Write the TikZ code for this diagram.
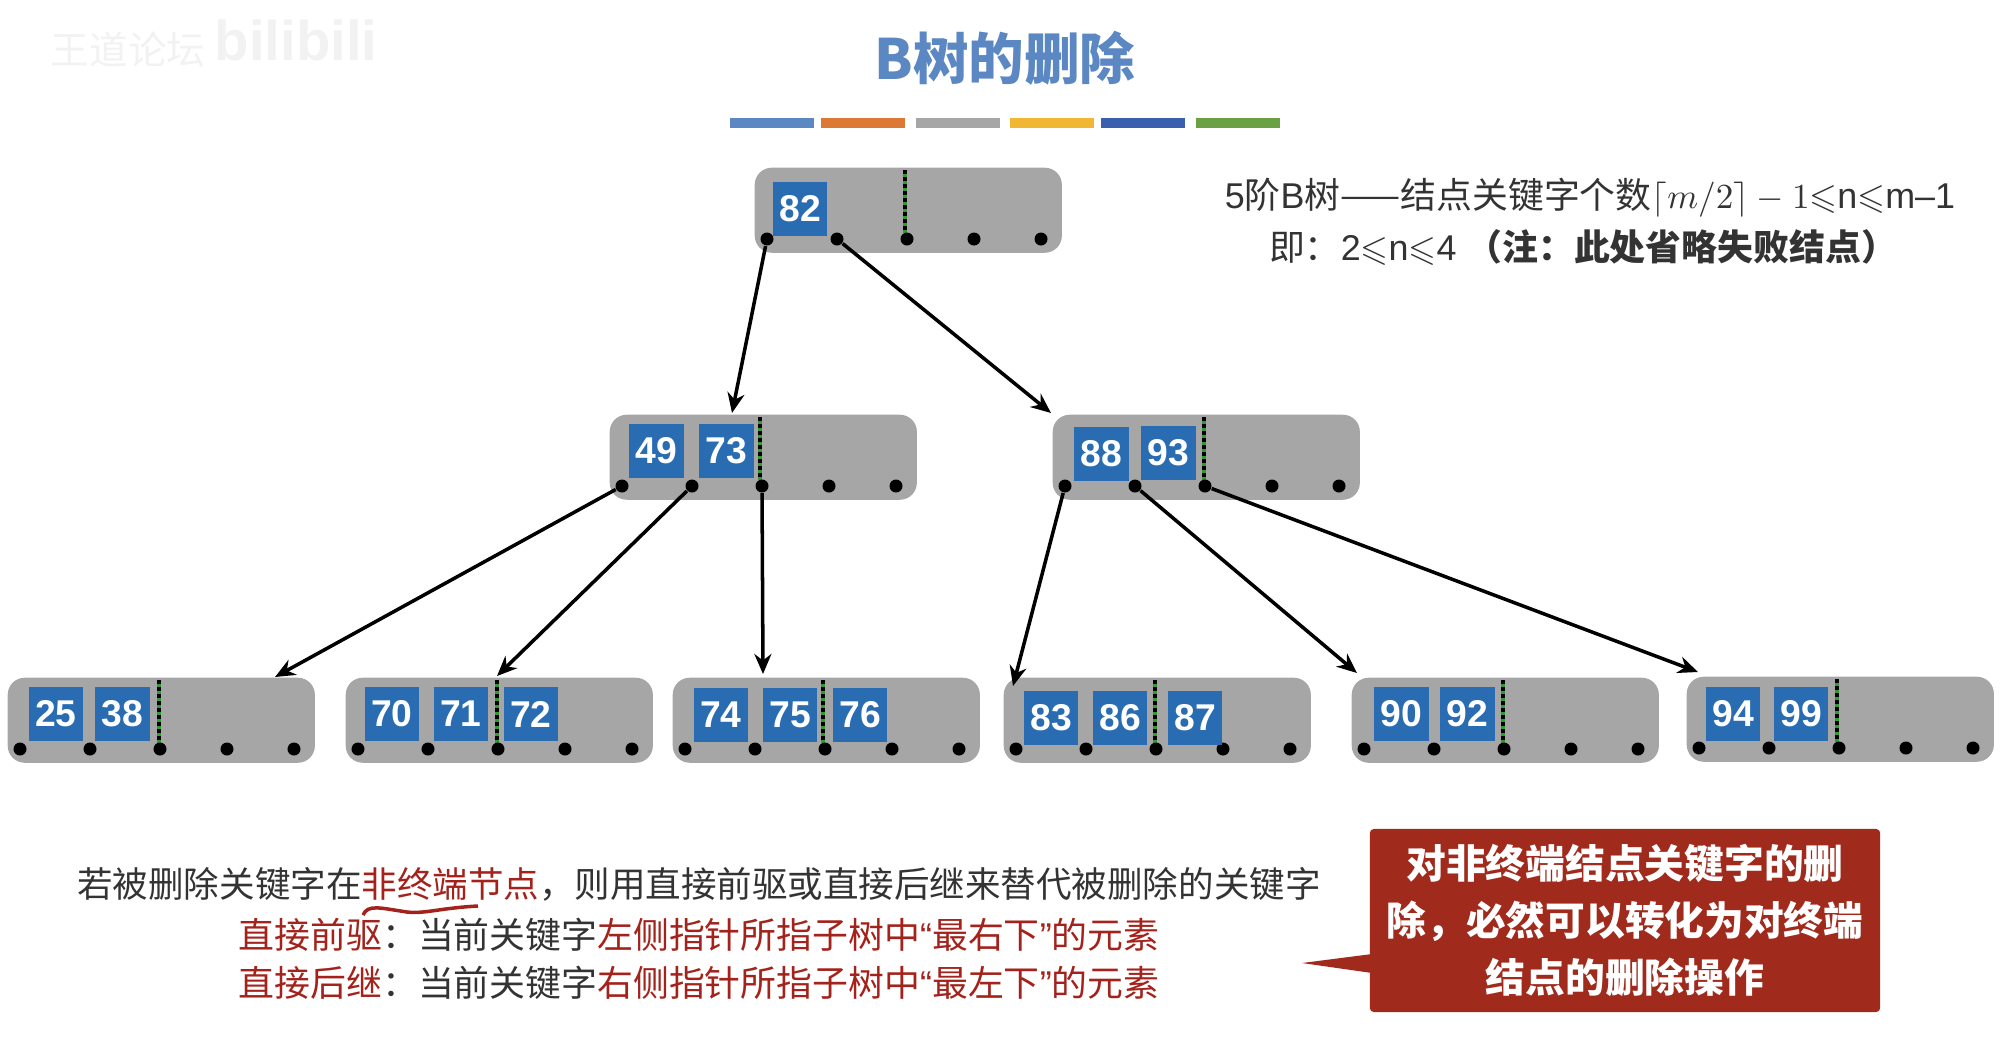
\documentclass[tikz,border=0pt]{standalone}
\usepackage{xcolor}
\usepackage{amssymb}
\usepackage{fontspec}
\setmainfont{Liberation Sans}
\newfontfamily\cjk{Noto Sans CJK SC}
\usetikzlibrary{arrows.meta}
\definecolor{titleblue}{HTML}{5B87C2}
\definecolor{keyblue}{HTML}{2A6CB2}
\definecolor{boxgray}{HTML}{A6A6A6}
\definecolor{textred}{HTML}{A3231C}
\definecolor{notered}{HTML}{A02A1C}
\definecolor{barorange}{HTML}{DC7A35}
\definecolor{baryellow}{HTML}{F2B635}
\definecolor{barblue}{HTML}{3A5FAF}
\definecolor{bargreen}{HTML}{6BA044}
\tikzset{
  btbox/.style={fill=boxgray,rounded corners=0.17cm,minimum width=3.07cm,minimum height=0.85cm,inner sep=0pt,anchor=north west},
  keybox/.style={fill=keyblue,text=white,minimum width=0.54cm,minimum height=0.54cm,inner sep=0pt,font=\fontsize{10.6pt}{12pt}\selectfont\bfseries},
  ptr/.style={circle,fill=black,minimum size=0.13cm,inner sep=0pt},
  link/.style={line width=1pt,-{Stealth[length=0.2cm,width=0.17cm]}},
  bar/.style={minimum width=0.83cm,minimum height=0.1cm,inner sep=0pt},
  txt/.style={inner sep=0pt,text=black!80,font=\fontsize{10.1pt}{12pt}\selectfont},
  rulefont/.style={font=\fontsize{10.2pt}{12pt}\selectfont},
}
% box with its five pointer dots and the dotted limit
\newcommand{\btnode}[4]{
  \node[btbox] (#1) at (#2,#3) {};
  \draw[green!50!black!80!white,line width=1pt] (#2+#4,#3+3)--(#2+#4,#3+66);
  \draw[black,line width=1pt,densely dotted] (#2+#4,#3+3)--(#2+#4,#3+66);
  \node[ptr] (#1-0) at (#2+13,#3+72) {};
  \node[ptr] (#1-1) at (#2+83,#3+72) {};
  \node[ptr] (#1-2) at (#2+153,#3+72) {};
  \node[ptr] (#1-3) at (#2+220,#3+72) {};
  \node[ptr] (#1-4) at (#2+287,#3+72) {};
}
\begin{document}
\begin{tikzpicture}[x=0.01cm,y=-0.01cm]
\useasboundingbox (0,0) rectangle (2011,1038);
% heading
\node[text=black!5,font=\fontsize{11pt}{13pt}\selectfont\cjk] (mark) at (128,50) {王道论坛};
\node[text=black!5,font=\fontsize{16pt}{19pt}\selectfont\bfseries] (site) at (296,40) {bilibili};
\node[text=titleblue,font=\fontsize{15.8pt}{18pt}\selectfont\cjk\bfseries] (title) at (1005,58) {B树的删除};
\node[bar,fill=titleblue] (bar1) at (772,123) {};
\node[bar,fill=barorange] (bar2) at (863,123) {};
\node[bar,fill=boxgray] (bar3) at (958,123) {};
\node[bar,fill=baryellow] (bar4) at (1052,123) {};
\node[bar,fill=barblue] (bar5) at (1143,123) {};
\node[bar,fill=bargreen] (bar6) at (1238,123) {};
% order of the tree
\node[txt,rulefont] (rule1) at (1590,198) {5{\cjk 阶}B{\cjk 树——结点关键字个数}$\lceil m/2\rceil-1{\leqslant}$n$\leqslant$m--1};
\node[txt,rulefont] (rule2) at (1583,247) {{\cjk 即：}2$\leqslant$n$\leqslant$4 {\cjk\bfseries （注：此处省略失败结点）}};
% root
\btnode{root}{754}{167}{151}
\node[keybox] (k82) at (800,208.5) {82};
% second level
\btnode{left}{609}{414}{151}
\node[keybox] (k49) at (656.5,451) {49};
\node[keybox] (k73) at (726.5,451) {73};
\btnode{right}{1052}{414}{152}
\node[keybox] (k88) at (1101.5,453.5) {88};
\node[keybox] (k93) at (1168.5,453) {93};
% leaves
\btnode{leafa}{7}{677}{152}
\node[keybox] (k25) at (56,714) {25};
\node[keybox] (k38) at (122.5,714) {38};
\btnode{leafb}{345}{677}{152}
\node[keybox] (k70) at (392,714) {70};
\node[keybox] (k71) at (461,714) {71};
\node[keybox] (k72) at (531,714) {72};
\btnode{leafc}{672}{677}{151}
\node[keybox] (k74) at (721,715) {74};
\node[keybox] (k75) at (790,715) {75};
\node[keybox] (k76) at (860,715) {76};
\btnode{leafd}{1003}{677}{152}
\node[keybox] (k83) at (1051,718) {83};
\node[keybox] (k86) at (1120,718) {86};
\node[keybox] (k87) at (1195,718) {87};
\btnode{leafe}{1351}{677}{152}
\node[keybox] (k90) at (1401.5,714) {90};
\node[keybox] (k92) at (1467.5,714) {92};
\btnode{leaff}{1686}{676}{151}
\node[keybox] (k94) at (1733,714) {94};
\node[keybox] (k99) at (1801,714) {99};
% free ends of the arrows
\coordinate (endl) at (732,413);
\coordinate (endr) at (1051,413);
\coordinate (enda) at (275,677);
\coordinate (endb) at (497,676);
\coordinate (endc) at (763,674);
\coordinate (endd) at (1013,686);
\coordinate (ende) at (1357,673);
\coordinate (endf) at (1698,672);
\draw[link] (root-0)--(endl);
\draw[link] (root-1)--(endr);
\draw[link] (left-0)--(enda);
\draw[link] (left-1)--(endb);
\draw[link] (left-2)--(endc);
\draw[link] (right-0)--(endd);
\draw[link] (right-1)--(ende);
\draw[link] (right-2)--(endf);
% notes
\node[txt] (line1) at (699,884) {\cjk 若被删除关键字在\textcolor{textred}{非终端节点}，则用直接前驱或直接后继来替代被删除的关键字};
\node[txt,rulefont] (line2) at (699,935) {\cjk\textcolor{textred}{直接前驱}：当前关键字\textcolor{textred}{左侧指针所指子树中{\rmfamily “}最右下{\rmfamily ”}的元素}};
\node[txt,rulefont] (line3) at (699,983) {\cjk\textcolor{textred}{直接后继}：当前关键字\textcolor{textred}{右侧指针所指子树中{\rmfamily “}最左下{\rmfamily ”}的元素}};
\coordinate (ink0) at (363,915);
\coordinate (ink1) at (478,906);
\draw[textred,line width=1pt] (ink0) .. controls (368,904) and (380,908) .. (407,912) .. controls (425,914) and (440,908) .. (ink1);
% callout
\coordinate (tail) at (1302,963);
\fill[notered] (tail)--(1372,954)--(1372,973)--cycle;
\node[fill=notered,rounded corners=0.04cm,minimum width=5.1cm,minimum height=1.83cm,inner sep=0pt,text=white,align=center,font=\fontsize{11.3pt}{16.1pt}\selectfont\cjk\bfseries] (note) at (1625,920.5) {对非终端结点关键字的删\\除，必然可以转化为对终端\\结点的删除操作};
\end{tikzpicture}
\end{document}
